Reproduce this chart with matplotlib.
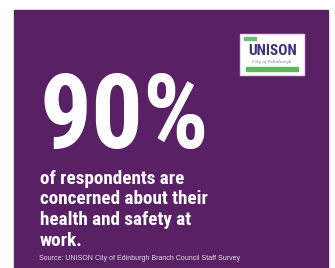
import matplotlib
matplotlib.use("Agg")
import matplotlib.pyplot as plt
from matplotlib.patches import Rectangle

# ====================== DATA ======================
percent = 90
statement_lines = [
    "of respondents are",
    "concerned about their",
    "health and safety at",
    "work.",
]
source_text = "Source: UNISON City of Edinburgh Branch Council Staff Survey"
logo_title = "UNISON"
logo_subtitle = "City of Edinburgh"

# ====================== STYLES ======================
purple = "#5a2066"
narrow = ["Roboto Condensed", "PT Sans Narrow", "Liberation Sans", "DejaVu Sans"]

fig = plt.figure(figsize=(3.35, 2.68), dpi=100)
ax = fig.add_axes([0, 0, 1, 1])
ax.set_xlim(0, 335)
ax.set_ylim(268, 0)
ax.axis("off")

# purple panel
ax.add_patch(Rectangle((14, 10), 314, 260, color=purple, zorder=0))

# logo box
ax.add_patch(Rectangle((240, 34), 64, 41, facecolor="white",
                       edgecolor="#e8d8ee", lw=1, zorder=1))
ax.text(273, 51, logo_title, ha="center", va="center", fontsize=11,
        fontweight="bold", color="#3b2f7a", family=narrow, zorder=2)
ax.text(272, 61.5, logo_subtitle, ha="center", va="center", fontsize=3.2,
        color="#7a6aa8", family="DejaVu Serif", style="italic", zorder=2)
ax.add_patch(Rectangle((246, 67), 52, 4, color="#5cb85c", zorder=2))
ax.add_patch(Rectangle((244, 37), 12, 2.5, color="#6cc070", zorder=2))

# big number
ax.text(40, 148, f"{percent}%", ha="left", va="baseline", fontsize=74,
        fontweight="bold", color="white", family=narrow)

# statement
for i, line in enumerate(statement_lines):
    ax.text(40, 184 + i * 20.5, line, ha="left", va="baseline",
            fontsize=13.8, fontweight="bold", color="white", family=narrow)

ax.text(39, 260, source_text, ha="left", va="baseline", fontsize=5,
        color="#e8dcef", family=["Liberation Sans", "DejaVu Sans"])

fig.savefig("out.png", dpi=100)
